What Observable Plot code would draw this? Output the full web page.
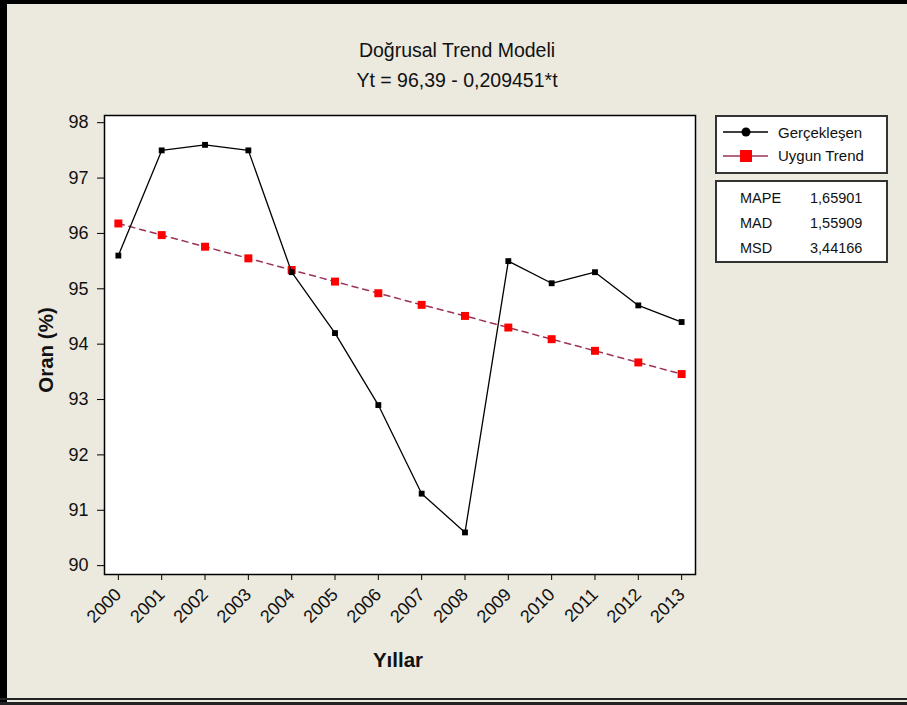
<!DOCTYPE html>
<html>
<head>
<meta charset="utf-8">
<script src="https://cdn.jsdelivr.net/npm/d3@7"></script>
<script src="https://cdn.jsdelivr.net/npm/@observablehq/plot@0.6"></script>
<style>
  body { margin: 0; background: #ECE9DF; }
  #wrap { position: relative; width: 907px; height: 705px; background: #ECE9DF; overflow: hidden;
          font-family: "Liberation Sans", Arial, sans-serif; color: #111; }
  #chart { position: absolute; left: 0; top: 0; }
  .bar { position: absolute; background: #000; }
  .title { position: absolute; left: 257px; width: 400px; text-align: center; font-size: 19.5px; }
  .axlabel { position: absolute; font-weight: bold; font-size: 20.5px; white-space: nowrap; }
  .box { position: absolute; left: 715px; width: 173px; background: #fff; border: 2px solid #333; box-sizing: border-box; }
  .box svg { position: absolute; left: 0; top: 0; }
  .lg { position: absolute; font-size: 15px; white-space: nowrap; }
  .st { position: absolute; font-size: 14.5px; white-space: nowrap; }
</style>
</head>
<body>
<div id="wrap">
  <div id="chart"></div>
  <div class="bar" style="left:0;top:0;width:907px;height:4px"></div>
  <div class="bar" style="left:0;top:0;width:7px;height:705px"></div>
  <div class="bar" style="left:0;top:698px;width:907px;height:2px;background:#222"></div>
  <div class="bar" style="left:0;top:702px;width:907px;height:3px;background:#222"></div>

  <div class="title" style="top:39px">Doğrusal Trend Modeli</div>
  <div class="title" style="top:69px">Yt = 96,39 - 0,209451*t</div>

  <div class="axlabel" style="left:46px;top:350px;transform:translate(-50%,-50%) rotate(-90deg)">Oran (%)</div>
  <div class="axlabel" style="left:398px;top:660px;transform:translate(-50%,-50%)">Yıllar</div>

  <div class="box" style="top:115px;height:59px">
    <svg width="173" height="59">
      <line x1="6" x2="51" y1="15" y2="15" stroke="#000" stroke-width="1.5"/>
      <circle cx="29" cy="15" r="4.5" fill="#000"/>
      <line x1="6" x2="51" y1="39" y2="39" stroke="#9c3355" stroke-width="1.5"/>
      <rect x="23" y="33" width="12" height="12" fill="#f00"/>
    </svg>
    <div class="lg" style="left:61px;top:7px">Gerçekleşen</div>
    <div class="lg" style="left:61px;top:30px">Uygun Trend</div>
  </div>
  <div class="box" style="top:180px;height:83px">
    <div class="st" style="left:23px;top:8px">MAPE</div><div class="st" style="left:93px;top:8px">1,65901</div>
    <div class="st" style="left:23px;top:33px">MAD</div><div class="st" style="left:93px;top:33px">1,55909</div>
    <div class="st" style="left:23px;top:58px">MSD</div><div class="st" style="left:93px;top:58px">3,44166</div>
  </div>
</div>
<script>
// Yearly observed rate and the fitted linear trend (Yt = 96,39 - 0,209451*t)
const years = [2000, 2001, 2002, 2003, 2004, 2005, 2006, 2007, 2008, 2009, 2010, 2011, 2012, 2013];
const gerceklesen = [95.6, 97.5, 97.6, 97.5, 95.3, 94.2, 92.9, 91.3, 90.6, 95.5, 95.1, 95.3, 94.7, 94.4];
const uygunTrend = [96.18, 95.97, 95.76, 95.55, 95.34, 95.13, 94.92, 94.71, 94.51, 94.30, 94.09, 93.88, 93.67, 93.46];
const yTicks = [90, 91, 92, 93, 94, 95, 96, 97, 98];

const actual = years.map((y, i) => ({year: y, value: gerceklesen[i]}));
const trend = years.map((y, i) => ({year: y, value: uygunTrend[i]}));

const chart = Plot.plot({
  width: 907,
  height: 705,
  marginLeft: 104,
  marginRight: 212,
  marginTop: 115,
  marginBottom: 131,
  style: {background: "transparent", fontFamily: "Liberation Sans, Arial, sans-serif", color: "#111"},
  x: {domain: [1999.68, 2013.32]},
  y: {domain: [89.84, 98.13]},
  marks: [
    Plot.frame({fill: "white", stroke: "none"}),
    Plot.axisY({ticks: yTicks, tickSize: 7, tickPadding: 9, fontSize: 18, label: null, stroke: "#000"}),
    Plot.axisX({ticks: years, tickFormat: d => String(d), tickSize: 6, tickRotate: -45, tickPadding: 11,
                fontSize: 18, label: null, stroke: "#000"}),
    Plot.line(trend, {x: "year", y: "value", stroke: "#9c3355", strokeWidth: 1.5, strokeDasharray: "6,5"}),
    Plot.dot(trend, {x: "year", y: "value", symbol: "square", r: 4.5, fill: "#ff0000", stroke: "none"}),
    Plot.line(actual, {x: "year", y: "value", stroke: "#000", strokeWidth: 1.3}),
    Plot.dot(actual, {x: "year", y: "value", symbol: "square", r: 3.3, fill: "#000", stroke: "none"}),
    Plot.frame({stroke: "#000", strokeWidth: 1.5})
  ]
});
document.getElementById("chart").appendChild(chart);
</script>
</body>
</html>
